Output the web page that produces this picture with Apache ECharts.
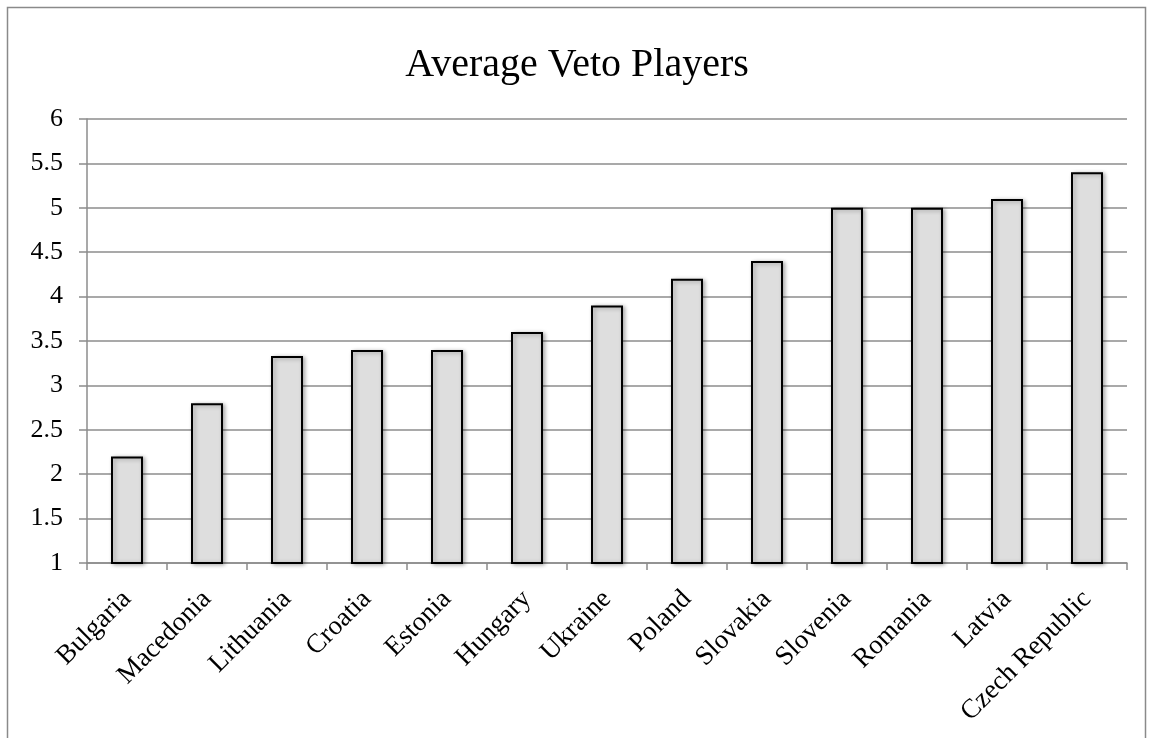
<!DOCTYPE html>
<html>
<head>
<meta charset="utf-8">
<script src="https://cdn.jsdelivr.net/npm/echarts@6/dist/echarts.min.js"></script>
<style>
  html, body { margin: 0; padding: 0; background: #fff; }
  #chart { width: 1154px; height: 738px; }
</style>
</head>
<body>
<div id="chart"></div>
<script>
const countries = ['Bulgaria', 'Macedonia', 'Lithuania', 'Croatia', 'Estonia', 'Hungary', 'Ukraine',
    'Poland', 'Slovakia', 'Slovenia', 'Romania', 'Latvia', 'Czech Republic'];
const vetoPlayers = [2.2, 2.8, 3.33, 3.4, 3.4, 3.6, 3.9, 4.2, 4.4, 5.0, 5.0, 5.1, 5.4];
const yTicks = [1, 1.5, 2, 2.5, 3, 3.5, 4, 4.5, 5, 5.5, 6];

const serif = '"Liberation Serif", "DejaVu Serif", serif';
const chart = echarts.init(document.getElementById('chart'));

const option = {
    backgroundColor: '#fff',
    animation: false,
    title: {
        text: 'Average Veto Players',
        left: 'center',
        top: 40,
        textStyle: { fontFamily: serif, fontSize: 40, fontWeight: 'normal', color: '#000' }
    },
    graphic: [{
        type: 'rect',
        shape: { x: 7.5, y: 7.5, width: 1138, height: 760 },
        style: { fill: null, stroke: '#8a8a8a', lineWidth: 1.5 },
        silent: true
    }],
    grid: { left: 87, right: 27, top: 119, bottom: 175, containLabel: false },
    xAxis: {
        type: 'category',
        data: countries,
        boundaryGap: true,
        axisLine: { lineStyle: { color: '#8c8c8c', width: 1.5 } },
        axisTick: { show: true, length: 7, alignWithLabel: false, lineStyle: { color: '#8c8c8c', width: 1.5 } },
        axisLabel: {
            interval: 0,
            rotate: 45,
            margin: 32,
            fontFamily: serif,
            fontSize: 27,
            color: '#000'
        }
    },
    yAxis: {
        type: 'value',
        min: 1,
        max: 6,
        interval: 0.5,
        axisLine: { show: true, lineStyle: { color: '#8c8c8c', width: 1.5 } },
        axisTick: { show: true, length: 8, lineStyle: { color: '#8c8c8c', width: 1.5 } },
        splitLine: { show: true, lineStyle: { color: '#8c8c8c', width: 1.5 } },
        axisLabel: {
            margin: 24,
            fontFamily: serif,
            fontSize: 26,
            color: '#000',
            formatter: v => yTicks.includes(v) ? String(v) : ''
        }
    },
    series: [{
        name: 'Average Veto Players',
        type: 'bar',
        data: vetoPlayers,
        barWidth: 32,
        itemStyle: {
            color: '#dedede',
            borderColor: '#000',
            borderWidth: 2,
            shadowColor: 'rgba(0,0,0,0.3)',
            shadowBlur: 4,
            shadowOffsetX: 2,
            shadowOffsetY: 1
        }
    }]
};

option && chart.setOption(option);
</script>
</body>
</html>
